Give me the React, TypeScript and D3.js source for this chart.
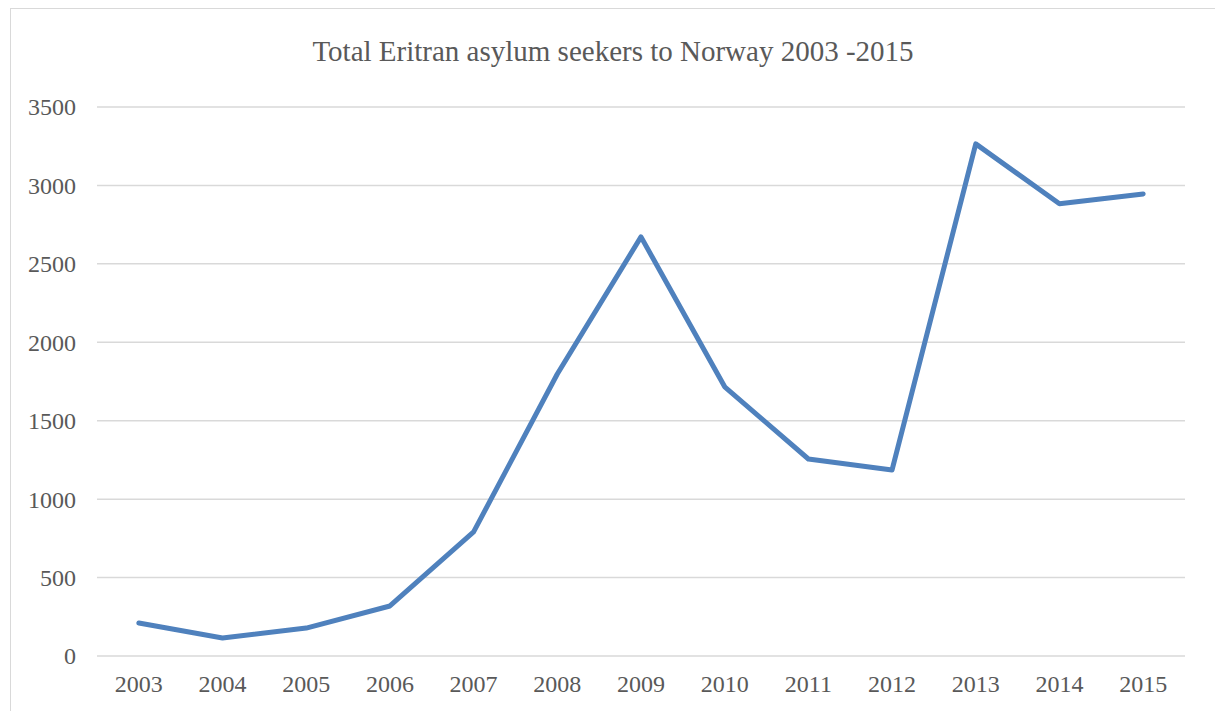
import React from "react";
import * as d3 from "d3";

const years = ["2003","2004","2005","2006","2007","2008","2009","2010","2011","2012","2013","2014","2015"];
const seekers = [210, 115, 178, 319, 791, 1798, 2672, 1716, 1256, 1186, 3265, 2883, 2946];
const yTicks = [0, 500, 1000, 1500, 2000, 2500, 3000, 3500];
const title = "Total Eritran asylum seekers to Norway 2003 -2015";

const W = 1215, H = 711;
const left = 97, right = 1185, top = 107, bottom = 656;

export default function App() {
  const x = d3.scaleBand<string>().domain(years).range([left, right]);
  const y = d3.scaleLinear().domain([0, 3500]).range([bottom, top]);
  const line = d3.line<number>()
    .x((_, i) => (x(years[i]) as number) + x.bandwidth() / 2)
    .y((d) => y(d));
  const font = "'Liberation Serif', 'Times New Roman', serif";
  return (
    <svg width={W} height={H} style={{ position: "absolute", left: 0, top: 0, background: "#fff" }}>
      <rect x={10.5} y={8.5} width={W + 20} height={H + 20} fill="#fff" stroke="#d9d9d9" strokeWidth={1} />
      <text x={613} y={61} textAnchor="middle" fontFamily={font} fontSize={29} fill="#595959">{title}</text>
      {yTicks.map((t) => (
        <g key={t}>
          <line x1={left} x2={right} y1={y(t)} y2={y(t)} stroke="#d9d9d9" strokeWidth={1.5} />
          <text x={76} y={y(t)} dy="0.35em" textAnchor="end" fontFamily={font} fontSize={24} fill="#595959">{t}</text>
        </g>
      ))}
      {years.map((yr) => (
        <text key={yr} x={(x(yr) as number) + x.bandwidth() / 2} y={692} textAnchor="middle" fontFamily={font} fontSize={24} fill="#595959">{yr}</text>
      ))}
      <path d={line(seekers) || ""} fill="none" stroke="#4f81bd" strokeWidth={5} strokeLinejoin="round" strokeLinecap="round" />
    </svg>
  );
}
